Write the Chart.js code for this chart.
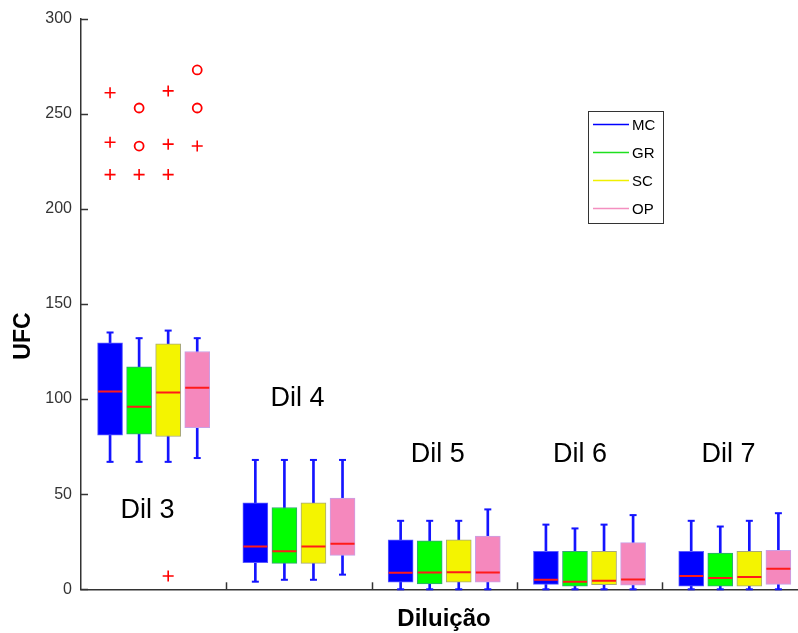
<!DOCTYPE html>
<html>
<head>
<meta charset="utf-8">
<script src="https://cdn.jsdelivr.net/npm/chart.js@4"></script>
<style>
  html, body { margin: 0; padding: 0; background: #fff; }
  #wrap { width: 798px; height: 633px; }
</style>
</head>
<body>
<div id="wrap"><canvas id="chart" width="798" height="633"></canvas></div>
<script>
// dilution groups and series
const dilutions = ["Dil 3", "Dil 4", "Dil 5", "Dil 6", "Dil 7"];
const seriesNames = ["MC", "GR", "SC", "OP"];
const yTicks = [0, 50, 100, 150, 200, 250, 300];

// box statistics, one row per series (MC, GR, SC, OP), one value per dilution
const whiskerHigh = [
  [135, 68, 36, 34, 36],
  [132, 68, 36, 32, 33],
  [136, 68, 36, 34, 36],
  [132, 68, 42, 39, 40],
];
const upperQuartile = [
  [129.5, 45.5, 26, 20, 20],
  [117, 43, 25.5, 20, 19],
  [129, 45.5, 26, 20, 20],
  [125, 48, 28, 24.5, 20.5],
];
const medians = [
  [104, 22.5, 8.7, 5, 7],
  [96, 20, 8.8, 4, 6],
  [103.5, 22.5, 9, 4.5, 6.5],
  [106, 24, 8.8, 5.2, 10.8],
];
const lowerQuartile = [
  [81, 14, 3.7, 2.6, 1.7],
  [81.5, 13.6, 2.8, 1.7, 1.7],
  [80.3, 13.6, 3.7, 2.4, 1.7],
  [85, 17.8, 3.7, 2.2, 2.6],
];
const whiskerLow = [
  [67, 4, 0, 0, 0],
  [67, 5, 0, 0, 0],
  [67, 5, 0, 0, 0],
  [69, 7.7, 0, 0, 0],
];

// outliers: [series index, dilution index, value]
const crossOutliers = [
  [0, 0, 261], [0, 0, 235], [0, 0, 218],
  [1, 0, 218],
  [2, 0, 262], [2, 0, 234], [2, 0, 218], [2, 0, 7],
  [3, 0, 233],
];
const circleOutliers = [
  [1, 0, 253], [1, 0, 233],
  [3, 0, 273], [3, 0, 253],
];

const fills = ["#0000ff", "#00ff00", "#f4f400", "#f588bd"];
const edges = ["#5a5aff", "#35a577", "#a8a87a", "#c9a0e6"];
const legendColors = ["#0000ff", "#1ee01e", "#f0f000", "#f48fc0"];
const fontFamily = "'Liberation Sans', Arial, sans-serif";

// layout anchors for the group captions (data units)
const captionAnchors = [
  { x: 0.458, y: 37.5 },
  { x: 1.49, y: 96.2 },
  { x: 2.456, y: 66.8 },
  { x: 3.434, y: 66.8 },
  { x: 4.456, y: 66.8 },
];

function boxX(seriesIndex, dilIndex) {
  return dilIndex + 0.2 * (seriesIndex + 1);
}

const datasets = [];

seriesNames.forEach((name, s) => {
  datasets.push({
    type: "bar",
    label: name + " whisker",
    data: dilutions.map((_, d) => ({ x: boxX(s, d), y: [whiskerLow[s][d], whiskerHigh[s][d]] })),
    backgroundColor: "#1414ff",
    borderWidth: 0,
    barThickness: 2,
    grouped: false,
    order: 3,
  });
  datasets.push({
    type: "bar",
    label: name,
    data: dilutions.map((_, d) => ({ x: boxX(s, d), y: [lowerQuartile[s][d], upperQuartile[s][d]] })),
    backgroundColor: fills[s],
    borderColor: edges[s],
    borderWidth: 1,
    borderSkipped: false,
    barThickness: 25,
    grouped: false,
    order: 2,
  });
  datasets.push({
    type: "scatter",
    label: name + " caps",
    data: dilutions.flatMap((_, d) => [
      { x: boxX(s, d), y: whiskerLow[s][d] },
      { x: boxX(s, d), y: whiskerHigh[s][d] },
    ]),
    pointStyle: "line",
    pointRadius: 3.5,
    borderColor: "#1414ff",
    borderWidth: 2,
    clip: false,
    order: 1,
  });
  datasets.push({
    type: "scatter",
    label: name + " median",
    data: dilutions.map((_, d) => ({ x: boxX(s, d), y: medians[s][d] })),
    pointStyle: "line",
    pointRadius: 12,
    borderColor: "#ff1a1a",
    borderWidth: 2,
    order: 1,
  });
});

datasets.push({
  type: "scatter",
  label: "outliers +",
  data: crossOutliers.map(([s, d, v]) => ({ x: boxX(s, d), y: v })),
  pointStyle: "cross",
  pointRadius: 5.5,
  borderColor: "#ff0000",
  borderWidth: 1.6,
  order: 1,
});
datasets.push({
  type: "scatter",
  label: "outliers o",
  data: circleOutliers.map(([s, d, v]) => ({ x: boxX(s, d), y: v })),
  pointStyle: "circle",
  pointRadius: 4.5,
  backgroundColor: "rgba(0,0,0,0)",
  borderColor: "#ff0000",
  borderWidth: 1.8,
  order: 1,
});

const decorations = {
  id: "decorations",
  afterDraw(chart) {
    const { ctx, scales } = chart;
    const xs = scales.x;
    const ys = scales.y;
    ctx.save();

    // inward tick marks
    ctx.strokeStyle = "#333";
    ctx.lineWidth = 1.5;
    yTicks.forEach((v) => {
      const py = Math.round(ys.getPixelForValue(v)) + 0.5;
      ctx.beginPath();
      ctx.moveTo(xs.left, py);
      ctx.lineTo(xs.left + 7, py);
      ctx.stroke();
    });
    for (let d = 1; d < dilutions.length; d++) {
      const px = Math.round(xs.getPixelForValue(d)) + 0.5;
      ctx.beginPath();
      ctx.moveTo(px, ys.bottom);
      ctx.lineTo(px, ys.bottom - 7);
      ctx.stroke();
    }

    // group captions
    ctx.fillStyle = "#000";
    ctx.font = `27px ${fontFamily}`;
    ctx.textAlign = "center";
    ctx.textBaseline = "alphabetic";
    dilutions.forEach((label, d) => {
      const a = captionAnchors[d];
      ctx.fillText(label, xs.getPixelForValue(a.x), ys.getPixelForValue(a.y));
    });

    // axis titles
    ctx.font = `bold 24px ${fontFamily}`;
    ctx.textBaseline = "middle";
    ctx.fillText("Diluição", 444, 619);
    ctx.save();
    ctx.translate(24, 336);
    ctx.rotate(-Math.PI / 2);
    ctx.font = `bold 23px ${fontFamily}`;
    ctx.fillText("UFC", 0, 0);
    ctx.restore();

    // legend box
    ctx.fillStyle = "#fff";
    ctx.fillRect(588.5, 111.5, 75, 112);
    ctx.strokeStyle = "#333";
    ctx.lineWidth = 1;
    ctx.strokeRect(588.5, 111.5, 75, 112);
    ctx.font = `15px ${fontFamily}`;
    ctx.textAlign = "left";
    ctx.textBaseline = "middle";
    seriesNames.forEach((name, s) => {
      const ry = 124.5 + s * 28;
      ctx.strokeStyle = legendColors[s];
      ctx.lineWidth = 1.5;
      ctx.beginPath();
      ctx.moveTo(593, ry);
      ctx.lineTo(629, ry);
      ctx.stroke();
      ctx.fillStyle = "#000";
      ctx.fillText(name, 632, ry + 1);
    });

    ctx.restore();
  },
};

new Chart(document.getElementById("chart"), {
  type: "bar",
  data: { datasets },
  options: {
    responsive: false,
    animation: false,
    devicePixelRatio: 1,
    layout: { autoPadding: false, padding: { top: 17.5, right: 0, bottom: 0, left: 0 } },
    plugins: {
      legend: { display: false },
      tooltip: { enabled: false },
    },
    scales: {
      x: {
        type: "linear",
        min: 0,
        max: 4.935,
        offset: false,
        ticks: { display: false },
        grid: { display: false, drawTicks: false },
        border: { display: true, color: "#333", width: 1.5 },
        afterFit(scale) {
          scale.height = 43.7;
        },
      },
      y: {
        min: 0,
        max: 300,
        ticks: {
          stepSize: 50,
          padding: 9,
          color: "#333",
          font: { family: fontFamily, size: 16 },
        },
        grid: { display: false, drawTicks: false },
        border: { display: true, color: "#333", width: 1.5 },
        afterFit(scale) {
          scale.width = 81;
        },
      },
    },
  },
  plugins: [decorations],
});
</script>
</body>
</html>
